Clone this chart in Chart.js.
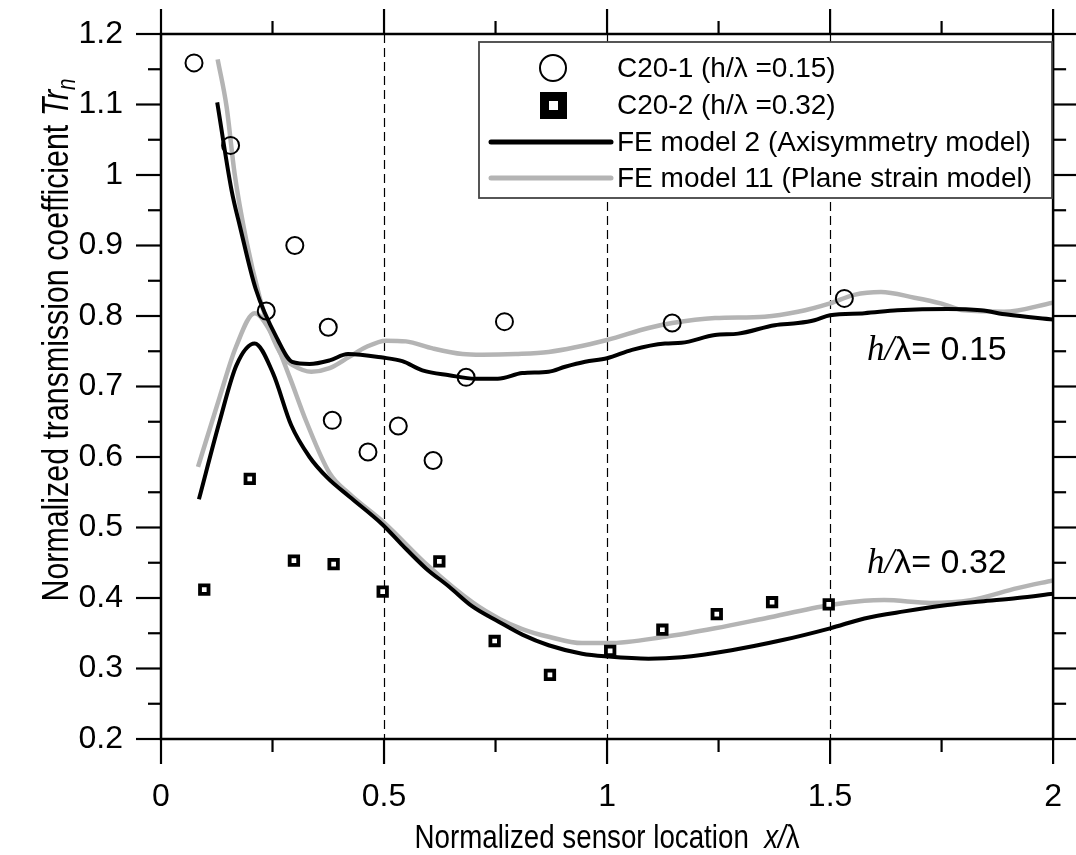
<!DOCTYPE html>
<html>
<head>
<meta charset="utf-8">
<script src="https://cdn.jsdelivr.net/npm/chart.js@4.4.1/dist/chart.umd.min.js"></script>
<style>
  body { margin:0; background:#fff; }
  #wrap { width:1076px; height:855px; }
</style>
</head>
<body>
<div id="wrap"><canvas id="chart" width="1076" height="855"></canvas></div>
<script>
// measured points (C20-1, h/lambda = 0.15)
const c201X = [0.074,0.156,0.236,0.300,0.375,0.384,0.464,0.532,0.610,0.684,0.770,1.146,1.532];
const c201Y = [1.159,1.042,0.807,0.900,0.784,0.652,0.607,0.644,0.595,0.713,0.792,0.790,0.825];
// measured points (C20-2, h/lambda = 0.32)
const c202X = [0.097,0.199,0.298,0.387,0.497,0.624,0.748,0.872,1.007,1.124,1.246,1.370,1.497];
const c202Y = [0.412,0.569,0.453,0.448,0.409,0.452,0.339,0.291,0.325,0.355,0.377,0.394,0.391];
// FE model 2, upper curve (0.15)
const fe2HighX = [0.126,0.158,0.177,0.212,0.262,0.294,0.333,0.378,0.419,0.497,0.541,0.586,0.646,0.705,0.755,0.810,0.869,0.906,0.951,1.0,1.056,1.130,1.167,1.242,1.294,1.376,1.428,1.465,1.500,1.577,1.651,1.763,1.838,1.897,2.0];
const fe2HighY = [1.103,0.979,0.927,0.839,0.766,0.735,0.732,0.737,0.746,0.741,0.736,0.723,0.716,0.711,0.711,0.719,0.721,0.728,0.735,0.740,0.752,0.761,0.762,0.773,0.775,0.787,0.790,0.794,0.801,0.804,0.808,0.810,0.808,0.802,0.795];
// FE model 11, upper curve (0.15)
const fe11HighX = [0.127,0.147,0.165,0.191,0.221,0.244,0.273,0.296,0.337,0.378,0.422,0.460,0.504,0.549,0.609,0.676,0.720,0.795,0.869,1.0,1.093,1.146,1.242,1.353,1.428,1.500,1.554,1.614,1.689,1.748,1.800,1.890,2.0];
const fe11HighY = [1.164,1.097,1.002,0.908,0.827,0.780,0.742,0.730,0.721,0.726,0.742,0.756,0.765,0.764,0.754,0.746,0.745,0.746,0.749,0.766,0.783,0.790,0.797,0.799,0.806,0.818,0.830,0.834,0.826,0.818,0.808,0.806,0.819];
// FE model 2, lower curve (0.32)
const fe2LowX = [0.085,0.132,0.169,0.210,0.251,0.292,0.333,0.374,0.422,0.497,0.541,0.594,0.646,0.698,0.758,0.810,0.869,0.944,1.003,1.093,1.167,1.279,1.391,1.500,1.577,1.666,1.763,1.838,1.920,2.0];
const fe2LowY = [0.540,0.652,0.730,0.761,0.719,0.645,0.600,0.570,0.544,0.504,0.475,0.442,0.416,0.388,0.366,0.348,0.333,0.321,0.317,0.314,0.316,0.326,0.340,0.357,0.371,0.381,0.390,0.395,0.400,0.406];
// FE model 11, lower curve (0.32)
const fe11LowX = [0.083,0.132,0.168,0.210,0.251,0.288,0.326,0.378,0.422,0.500,0.600,0.700,0.760,0.810,0.869,0.944,1.003,1.130,1.242,1.353,1.500,1.577,1.621,1.726,1.815,1.920,2.0];
const fe11LowY = [0.586,0.686,0.756,0.804,0.771,0.714,0.650,0.577,0.548,0.507,0.445,0.393,0.370,0.356,0.345,0.336,0.336,0.345,0.357,0.371,0.390,0.396,0.397,0.393,0.397,0.414,0.425];

const xTicks = [0, 0.5, 1, 1.5, 2];
const yTicks = [0.2, 0.3, 0.4, 0.5, 0.6, 0.7, 0.8, 0.9, 1, 1.1, 1.2];
const xMinorTicks = [0.25, 0.75, 1.25, 1.75];
const yMinorTicks = [0.25, 0.35, 0.45, 0.55, 0.65, 0.75, 0.85, 0.95, 1.05, 1.15];
const dashedAt = [0.5, 1, 1.5];

const SANS = '"Liberation Sans", Arial, sans-serif';
const SERIF = '"Liberation Serif", "Times New Roman", serif';
const GRAY = '#b4b4b4';

function pts(xs, ys) {
    return xs.map((x, i) => ({x: x, y: ys[i]}));
}

// dashed vertical lines
const dashPlugin = {
    id: 'dashes',
    beforeDatasetsDraw(chart) {
        const ctx = chart.ctx, a = chart.chartArea, sx = chart.scales.x;
        ctx.save();
        ctx.strokeStyle = '#000';
        ctx.lineWidth = 1.2;
        ctx.setLineDash([9, 5]);
        dashedAt.forEach(v => {
            const px = Math.round(sx.getPixelForValue(v)) + 0.5;
            ctx.beginPath();
            ctx.moveTo(px, a.top);
            ctx.lineTo(px, a.bottom);
            ctx.stroke();
        });
        ctx.restore();
    }
};

// frame, outward ticks, legend, labels, axis titles
const decoPlugin = {
    id: 'deco',
    afterDraw(chart) {
        const ctx = chart.ctx, a = chart.chartArea;
        const sx = chart.scales.x, sy = chart.scales.y;
        ctx.save();
        ctx.strokeStyle = '#000';
        ctx.lineWidth = 2.5;
        ctx.strokeRect(a.left, a.top, a.right - a.left, a.bottom - a.top);

        // ticks on all four sides, pointing out
        function tick(x1, y1, x2, y2) {
            ctx.beginPath(); ctx.moveTo(x1, y1); ctx.lineTo(x2, y2); ctx.stroke();
        }
        ctx.lineWidth = 2.2;
        xTicks.forEach(v => {
            const px = sx.getPixelForValue(v);
            tick(px, a.bottom, px, a.bottom + 25);
            tick(px, a.top, px, a.top - 25);
        });
        xMinorTicks.forEach(v => {
            const px = sx.getPixelForValue(v);
            tick(px, a.bottom, px, a.bottom + 13);
            tick(px, a.top, px, a.top - 13);
        });
        yTicks.forEach(v => {
            const py = sy.getPixelForValue(v);
            tick(a.left, py, a.left - 25, py);
            tick(a.right, py, a.right + 25, py);
        });
        yMinorTicks.forEach(v => {
            const py = sy.getPixelForValue(v);
            tick(a.left, py, a.left - 13, py);
            tick(a.right, py, a.right + 13, py);
        });

        // legend box
        const ds = chart.data.datasets;
        ctx.fillStyle = '#fff';
        ctx.fillRect(479, 42, 573, 156);
        ctx.strokeStyle = '#444';
        ctx.lineWidth = 1.8;
        ctx.strokeRect(479, 42, 573, 156);
        const rows = [68, 105, 142, 178];
        ctx.font = '28px ' + SANS;
        ctx.textBaseline = 'middle';
        ctx.textAlign = 'left';
        rows.forEach((ry, i) => {
            const d = ds[i];
            if (i === 0) {
                ctx.strokeStyle = '#000'; ctx.lineWidth = 2;
                ctx.beginPath(); ctx.arc(553, ry, 13, 0, Math.PI * 2); ctx.stroke();
            } else if (i === 1) {
                ctx.fillStyle = '#000';
                ctx.fillRect(540, ry - 13, 27, 27);
                ctx.fillStyle = '#fff';
                ctx.fillRect(549, ry - 4, 9, 9);
            } else {
                ctx.strokeStyle = d.borderColor; ctx.lineWidth = 5;
                ctx.lineCap = 'round';
                ctx.beginPath(); ctx.moveTo(491, ry); ctx.lineTo(611, ry); ctx.stroke();
                ctx.lineCap = 'butt';
            }
            ctx.fillStyle = '#000';
            ctx.fillText(d.label, 617, ry + 1);
        });

        // h/lambda annotations
        ctx.textBaseline = 'alphabetic';
        [['0.15', 360], ['0.32', 573]].forEach(p => {
            let x = 867;
            ctx.font = 'italic 35px ' + SERIF;
            ctx.fillText('h/', x, p[1]);
            x += ctx.measureText('h/').width;
            ctx.font = '34px ' + SANS;
            ctx.fillText('\u03bb= ' + p[0], x, p[1]);
        });

        // x axis title (narrow look)
        ctx.save();
        const t1 = 'Normalized sensor location  ';
        ctx.font = 'italic 33px ' + SANS;
        const t2w = ctx.measureText('x/').width;
        ctx.font = '33px ' + SANS;
        const t3w = ctx.measureText('\u03bb').width;
        const t1w = ctx.measureText(t1).width;
        const sc = 0.84;
        const total = (t1w + t2w + t3w) * sc;
        ctx.translate((a.left + a.right) / 2 - total / 2, 848);
        ctx.scale(sc, 1);
        ctx.fillText(t1, 0, 0);
        ctx.font = 'italic 33px ' + SANS;
        ctx.fillText('x/', t1w, 0);
        ctx.font = '33px ' + SANS;
        ctx.fillText('\u03bb', t1w + t2w, 0);
        ctx.restore();

        // y axis title
        ctx.save();
        const y1 = 'Normalized transmission coefficient ';
        ctx.font = '37px ' + SANS;
        const y1w = ctx.measureText(y1).width;
        ctx.font = 'italic 37px ' + SANS;
        const y2w = ctx.measureText('Tr').width;
        ctx.font = 'italic 25px ' + SANS;
        const y3w = ctx.measureText('n').width;
        const ysc = 0.82;
        const ytot = (y1w + y2w + y3w) * ysc;
        ctx.translate(68, 340 + ytot / 2);
        ctx.rotate(-Math.PI / 2);
        ctx.scale(ysc, 1);
        ctx.font = '37px ' + SANS;
        ctx.fillText(y1, 0, 0);
        ctx.font = 'italic 37px ' + SANS;
        ctx.fillText('Tr', y1w, 0);
        ctx.font = 'italic 25px ' + SANS;
        ctx.fillText('n', y1w + y2w, 7);
        ctx.restore();

        ctx.restore();
    }
};

new Chart(document.getElementById('chart'), {
    type: 'scatter',
    data: {
        datasets: [
            {
                label: 'C20-1 (h/\u03bb =0.15)',
                data: pts(c201X, c201Y),
                pointStyle: 'circle',
                pointRadius: 8.5,
                pointBorderWidth: 2,
                pointBorderColor: '#000',
                pointBackgroundColor: 'rgba(0,0,0,0)'
            },
            {
                label: 'C20-2 (h/\u03bb =0.32)',
                data: pts(c202X, c202Y),
                pointStyle: 'rect',
                pointRadius: 6,
                pointBorderWidth: 3.8,
                pointBorderColor: '#000',
                pointBackgroundColor: '#fff'
            },
            {
                label: 'FE model 2 (Axisymmetry model)',
                data: pts(fe2HighX, fe2HighY),
                showLine: true,
                borderColor: '#000',
                borderWidth: 4,
                pointRadius: 0,
                cubicInterpolationMode: 'monotone'
            },
            {
                label: 'FE model 11 (Plane strain model)',
                data: pts(fe11HighX, fe11HighY),
                showLine: true,
                borderColor: GRAY,
                borderWidth: 4.5,
                pointRadius: 0,
                cubicInterpolationMode: 'monotone'
            },
            {
                label: 'FE model 2 low',
                data: pts(fe2LowX, fe2LowY),
                showLine: true,
                borderColor: '#000',
                borderWidth: 4,
                pointRadius: 0,
                cubicInterpolationMode: 'monotone',
                order: 1
            },
            {
                label: 'FE model 11 low',
                data: pts(fe11LowX, fe11LowY),
                showLine: true,
                borderColor: GRAY,
                borderWidth: 4.5,
                pointRadius: 0,
                cubicInterpolationMode: 'monotone',
                order: 2
            }
        ]
    },
    options: {
        responsive: false,
        animation: false,
        layout: { padding: { top: 34, right: 20, left: 0, bottom: 0 } },
        plugins: { legend: { display: false }, tooltip: { enabled: false } },
        scales: {
            x: {
                type: 'linear', min: 0, max: 2,
                afterBuildTicks: s => { s.ticks = xTicks.map(v => ({value: v})); },
                afterFit: s => { s.height = 116; },
                grid: { drawOnChartArea: false, tickLength: 25, tickColor: 'rgba(0,0,0,0)' },
                border: { display: false },
                ticks: { color: '#000', font: { family: SANS, size: 32 }, padding: 14, maxRotation: 0,
                    callback: v => String(v) }
            },
            y: {
                type: 'linear', min: 0.2, max: 1.2,
                afterBuildTicks: s => { s.ticks = yTicks.map(v => ({value: v})); },
                afterFit: s => { s.width = 161; },
                grid: { drawOnChartArea: false, tickLength: 25, tickColor: 'rgba(0,0,0,0)' },
                border: { display: false },
                ticks: { color: '#000', font: { family: SANS, size: 32 }, padding: 13,
                    callback: v => String(v) }
            }
        }
    },
    plugins: [dashPlugin, decoPlugin]
});
</script>
</body>
</html>
